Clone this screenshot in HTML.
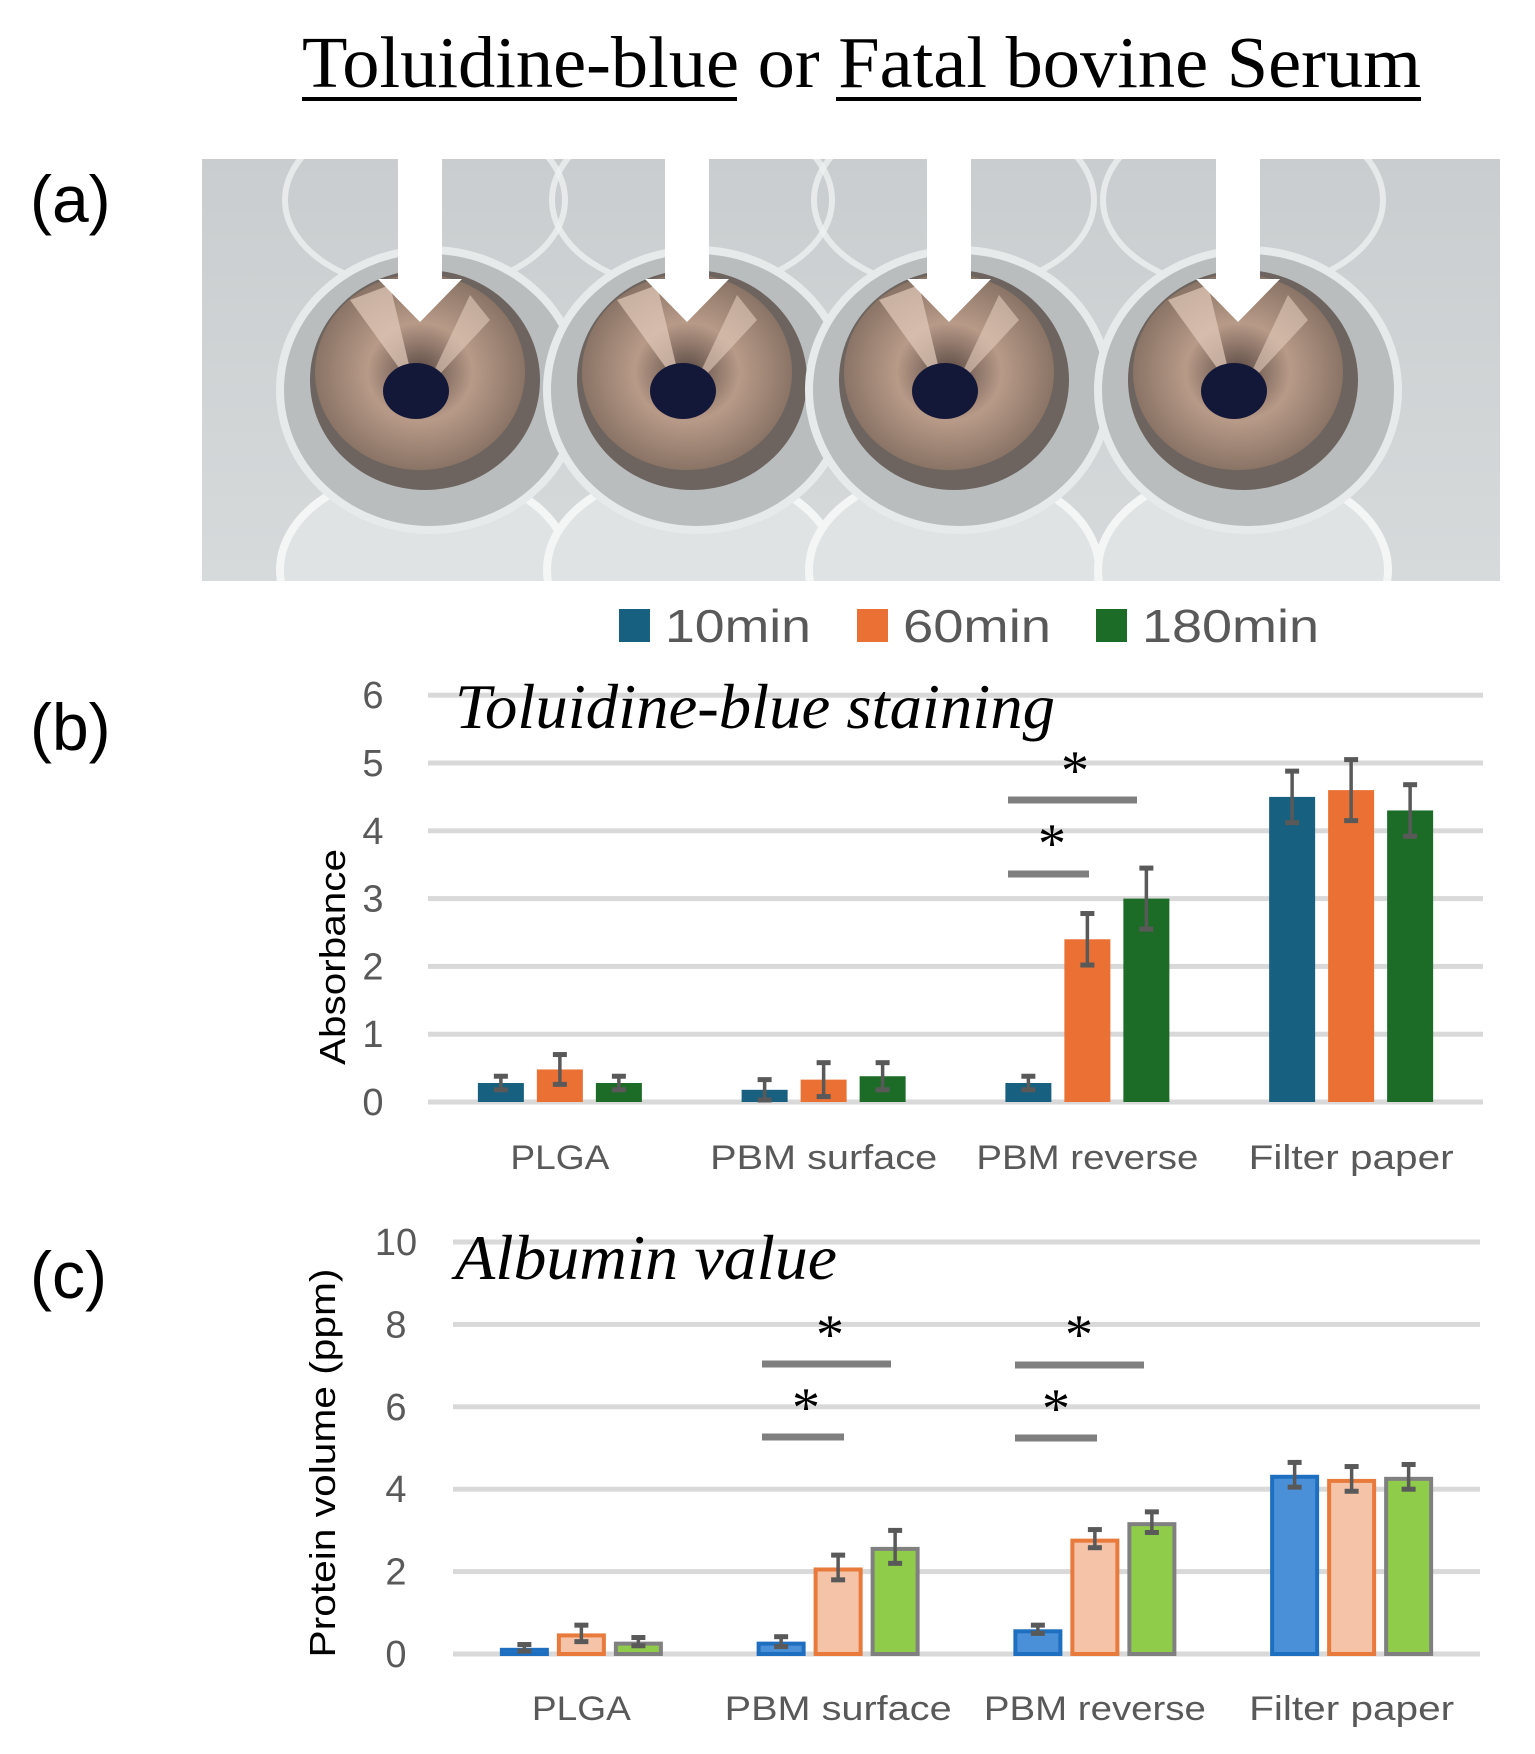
<!DOCTYPE html>
<html><head><meta charset="utf-8"><style>
html,body{margin:0;padding:0;background:#fff;}
svg{display:block;}
</style></head><body>
<svg id="fig" width="1535" height="1754" viewBox="0 0 1535 1754" xmlns="http://www.w3.org/2000/svg">
<defs>
<radialGradient id="cone" cx="50%" cy="50%" r="50%">
<stop offset="0" stop-color="#5a4a44"/><stop offset="0.5" stop-color="#b89a88"/><stop offset="1" stop-color="#8a7466"/>
</radialGradient>
<linearGradient id="bg" x1="0" y1="0" x2="0" y2="1">
<stop offset="0" stop-color="#c9cdcf"/><stop offset="1" stop-color="#d6dadb"/>
</linearGradient>
<clipPath id="photoClip"><rect x="202" y="159" width="1298" height="422"/></clipPath>
</defs>
<g>
<text x="302" y="87" font-family="Liberation Serif, serif" font-size="73" textLength="1119" lengthAdjust="spacingAndGlyphs" fill="#000">Toluidine-blue or Fatal bovine Serum</text>
<rect x="302" y="97" width="435" height="4" fill="#000"/>
<rect x="836" y="97" width="585" height="4" fill="#000"/>
</g>
<text x="30" y="222" font-family="Liberation Sans, sans-serif" font-size="66" fill="#000">(a)</text>
<g id="photo" clip-path="url(#photoClip)"></g>
<g id="legend"></g>
<g id="chartB"></g>
<g id="chartC"></g>
</svg>
<script>
const NS='http://www.w3.org/2000/svg';
function mk(p,t,a,txt){const e=document.createElementNS(NS,t);for(const k in a)e.setAttribute(k,a[k]);if(txt!==undefined)e.textContent=txt;p.appendChild(e);return e;}

const categories=['PLGA','PBM surface','PBM reverse','Filter paper'];
const seriesNames=['10min','60min','180min'];
// Chart b
const bTicks=[0,1,2,3,4,5,6];
const b10=[0.28,0.18,0.28,4.5];
const b60=[0.48,0.33,2.4,4.6];
const b180=[0.28,0.38,3.0,4.3];
const b10err=[0.1,0.15,0.1,0.38];
const b60err=[0.22,0.25,0.38,0.45];
const b180err=[0.1,0.2,0.45,0.38];
// Chart c
const cTicks=[0,2,4,6,8,10];
const c10=[0.15,0.3,0.6,4.35];
const c60=[0.5,2.1,2.8,4.25];
const c180=[0.3,2.6,3.2,4.3];
const c10err=[0.08,0.12,0.1,0.3];
const c60err=[0.2,0.3,0.22,0.3];
const c180err=[0.1,0.4,0.25,0.3];

const catLen=[99,227,222,205];

// photo
(function(){
const g=document.getElementById('photo');
mk(g,'rect',{x:202,y:159,width:1298,height:422,fill:'url(#bg)'});
const cx=[420,687,949,1238];
cx.forEach((x,i)=>{
 const w=mk(g,'g',{});
 
 
 mk(w,'ellipse',{cx:x+5,cy:200,rx:140,ry:90,fill:'none',stroke:'#eef0f0','stroke-width':6,opacity:0.8});
 mk(w,'ellipse',{cx:x+5,cy:570,rx:145,ry:100,fill:'#dfe3e4',stroke:'#f4f6f6','stroke-width':8});
 mk(w,'ellipse',{cx:x+10,cy:390,rx:150,ry:140,fill:'#b9bdbe',stroke:'#e6eaea','stroke-width':8});
 mk(w,'ellipse',{cx:x+5,cy:380,rx:115,ry:110,fill:'#6d645f'});
 mk(w,'ellipse',{cx:x,cy:372,rx:105,ry:98,fill:'url(#cone)'});
 mk(w,'polygon',{points:`${x-5},390 ${x-70},300 ${x-30},285`,fill:'#e3cbbb',opacity:0.7});
 mk(w,'polygon',{points:`${x+5},390 ${x+70},320 ${x+50},295`,fill:'#e3cbbb',opacity:0.6});
 mk(w,'ellipse',{cx:x-4,cy:391,rx:33,ry:28,fill:'#141838'});
 const a=mk(g,'polygon',{points:`${x-22},159 ${x+22},159 ${x+22},279 ${x+42},279 ${x},322 ${x-42},279 ${x-22},279`,fill:'#fff'});
 
 
});
})();

// legend
(function(){
const g=document.getElementById('legend');
const cols=['#17607f','#ea7133','#1c6b27'];
const sx=[619,857,1096];
const tl=[146,148,177];
seriesNames.forEach((n,i)=>{
 const r=mk(g,'rect',{x:sx[i],y:609,width:31,height:33,fill:cols[i]});
 
 
 const t=mk(g,'text',{x:sx[i]+46,y:642,'font-family':'Liberation Sans, sans-serif','font-size':46,fill:'#595959',textLength:tl[i],lengthAdjust:'spacingAndGlyphs'},n);
 
 
});
})();

function chart(gid,o){
const g=document.getElementById(gid);
const y=v=>o.y0-v*o.unit;
const step=(o.x1-o.x0)/categories.length;
const cxf=i=>o.x0+step*(i+0.5);
o.ticks.forEach(t=>{
 const l=mk(g,'rect',{x:o.x0,y:y(t)-2.5,width:o.x1-o.x0,height:5,fill:'#d9d9d9'});
 
 
 const tx=mk(g,'text',{x:o.tickX,y:y(t)+13,'text-anchor':'middle','font-family':'Liberation Sans, sans-serif','font-size':38,fill:'#595959'},String(t));
 
 
});
const vals=[o.v10,o.v60,o.v180], errs=[o.e10,o.e60,o.e180];
categories.forEach((c,i)=>{
 vals.forEach((arr,s)=>{
  const bx=cxf(i)+(s-1)*o.bstep-o.bw/2;
  const top=y(arr[i]);
  const b=mk(g,'rect',{x:bx+o.sw/2,y:top+o.sw/2,width:o.bw-o.sw,height:o.y0-top-o.sw/2,fill:o.fill[s],stroke:o.stroke[s],'stroke-width':o.sw});
  
  
  const mx=bx+o.bw/2, e=errs[s][i];
  const eg=mk(g,'g',{stroke:'#595959','stroke-width':3.5,fill:'none'});
  
  
  mk(eg,'line',{x1:mx,y1:y(arr[i]+e),x2:mx,y2:y(arr[i]-e)});
  mk(eg,'line',{x1:mx-7,y1:y(arr[i]+e),x2:mx+7,y2:y(arr[i]+e),'stroke-width':5});
  mk(eg,'line',{x1:mx-7,y1:y(arr[i]-e),x2:mx+7,y2:y(arr[i]-e),'stroke-width':5});
 });
 const t=mk(g,'text',{x:cxf(i),y:o.catY,'text-anchor':'middle','font-family':'Liberation Sans, sans-serif','font-size':34,fill:'#595959',textLength:catLen[i],lengthAdjust:'spacingAndGlyphs'},c);
 
 
});
const yt=mk(g,'text',{x:0,y:0,transform:`translate(${o.titleX},${o.titleY}) rotate(-90)`,'text-anchor':'middle','font-family':'Liberation Sans, sans-serif','font-size':36,fill:'#000',textLength:o.ytLen,lengthAdjust:'spacingAndGlyphs'},o.ytitle);


const ct=mk(g,'text',{x:455,y:o.ctY,'font-family':'Liberation Serif, serif','font-style':'italic','font-size':64,fill:'#000',textLength:o.ctLen,lengthAdjust:'spacingAndGlyphs'},o.ctitle);


const pl=mk(g,'text',{x:30,y:o.plY,'font-family':'Liberation Sans, sans-serif','font-size':66,fill:'#000'},o.pl);


o.sig.forEach(s=>{
 const r=mk(g,'rect',{x:s[0],y:s[2]-3.5,width:s[1]-s[0],height:7,fill:'#7f7f7f'});
 
 
 const st=mk(g,'text',{x:s[3],y:s[4]+24,'text-anchor':'middle','font-family':'Liberation Serif, serif','font-size':56,fill:'#000'},'*');
 
 
});
}

chart('chartB',{x0:428,x1:1483,y0:1102,unit:67.8,ticks:bTicks,tickX:373,bw:46,bstep:59,sw:0,
 v10:b10,v60:b60,v180:b180,e10:b10err,e60:b60err,e180:b180err,
 fill:['#17607f','#ea7133','#1c6b27'],stroke:['none','none','none'],
 catY:1169,titleX:345,titleY:957,ytitle:'Absorbance',ytLen:216,ctitle:'Toluidine-blue staining',ctY:728,ctLen:600,pl:'(b)',plY:750,
 sig:[[1008,1137,800,1075,765],[1008,1089,874,1052,838]]});
chart('chartC',{x0:453,x1:1480,y0:1654,unit:41.2,ticks:cTicks,tickX:396,bw:49,bstep:57,sw:4,
 v10:c10,v60:c60,v180:c180,e10:c10err,e60:c60err,e180:c180err,
 fill:['#4a90d9','#f5c4a8','#8fcc4a'],stroke:['#1f6fc0','#e87a3c','#808080'],
 catY:1720,titleX:335,titleY:1463,ytitle:'Protein volume (ppm)',ytLen:389,ctitle:'Albumin value',ctY:1279,ctLen:382,pl:'(c)',plY:1298,
 sig:[[762,891,1364,830,1329],[762,844,1437,806,1402],[1015,1144,1365,1079,1329],[1015,1097,1438,1056,1403]]});
</script>
</body></html>
